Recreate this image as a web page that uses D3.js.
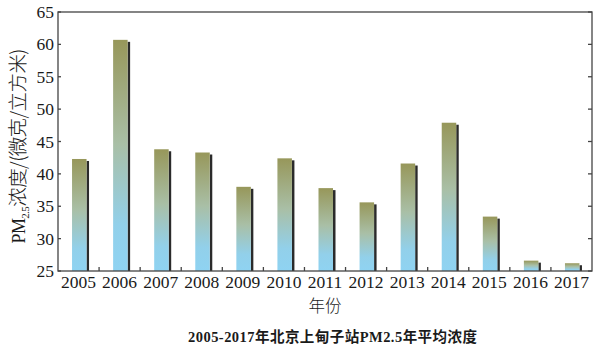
<!DOCTYPE html>
<html>
<head>
<meta charset="utf-8">
<script src="https://cdn.jsdelivr.net/npm/d3@7"></script>
<style>
  body { margin: 0; background: #fff; }
</style>
</head>
<body>
<div id="chart"></div>
<script>
// PM2.5 yearly average, Shangdianzi station
const years = ['2005', '2006', '2007', '2008', '2009', '2010', '2011',
               '2012', '2013', '2014', '2015', '2016', '2017'];
const values = [42.3, 60.7, 43.8, 43.3, 38.0, 42.4, 37.8,
                35.6, 41.6, 47.9, 33.4, 26.6, 26.2];
const yTicks = [25, 30, 35, 40, 45, 50, 55, 60, 65];

const width = 602, height = 354;
const margin = { top: 12, right: 10, bottom: 83, left: 58 };
const cjk = '"Noto Sans CJK SC", sans-serif';

const svg = d3.select('#chart').append('svg')
    .attr('width', width)
    .attr('height', height)
    .attr('font-family', '"Liberation Serif", "Noto Sans CJK SC", serif')
    .attr('fill', '#1a1a1a');

// scales
const x = d3.scaleBand()
    .domain(years)
    .range([margin.left, width - margin.right]);

const y = d3.scaleLinear()
    .domain([25, 65])
    .range([height - margin.bottom, margin.top]);

// bar gradient: olive on top fading into light blue
const defs = svg.append('defs');
const grad = defs.append('linearGradient')
    .attr('id', 'barGrad')
    .attr('x1', 0).attr('y1', 0).attr('x2', 0).attr('y2', 1);
grad.append('stop').attr('offset', '0%').attr('stop-color', '#97975a');
grad.append('stop').attr('offset', '45%').attr('stop-color', '#a9bfa6');
grad.append('stop').attr('offset', '80%').attr('stop-color', '#92d0ea');
grad.append('stop').attr('offset', '100%').attr('stop-color', '#8fd3f2');

const bars = svg.append('g');
const cx = d => x(d) + x.bandwidth() / 2;

// shadow strip on the right side of each bar
bars.selectAll('.shadow')
    .data(years)
    .join('rect')
    .attr('class', 'shadow')
    .attr('x', d => cx(d) + 8)
    .attr('y', (d, i) => y(values[i]) + 2)
    .attr('width', 2.5)
    .attr('height', (d, i) => y(25) - y(values[i]) - 2)
    .attr('fill', '#2b2b2b');

bars.selectAll('.bar')
    .data(years)
    .join('rect')
    .attr('class', 'bar')
    .attr('x', d => cx(d) - 6.5)
    .attr('y', (d, i) => y(values[i]))
    .attr('width', 14.5)
    .attr('height', (d, i) => y(25) - y(values[i]))
    .attr('fill', 'url(#barGrad)');

// frame
const frame = svg.append('g')
    .attr('stroke', '#444')
    .attr('stroke-width', 1.3)
    .attr('fill', 'none');
frame.append('rect')
    .attr('x', margin.left)
    .attr('y', margin.top)
    .attr('width', width - margin.left - margin.right)
    .attr('height', height - margin.top - margin.bottom);

// inner ticks on left and right
const left = margin.left, right = width - margin.right;
frame.selectAll('.lt')
    .data(yTicks)
    .join('line')
    .attr('x1', left).attr('x2', left + 3)
    .attr('y1', d => y(d)).attr('y2', d => y(d));
frame.selectAll('.rt')
    .data(yTicks)
    .join('line')
    .attr('x1', right).attr('x2', right - 4)
    .attr('y1', d => y(d)).attr('y2', d => y(d));

// bottom ticks at band boundaries
frame.selectAll('.bt')
    .data(years.slice(1))
    .join('line')
    .attr('x1', d => x(d)).attr('x2', d => x(d))
    .attr('y1', y(25)).attr('y2', y(25) - 4);

// tick labels
svg.append('g')
    .selectAll('text')
    .data(yTicks)
    .join('text')
    .attr('x', left - 4)
    .attr('y', d => y(d) + 6)
    .attr('text-anchor', 'end')
    .attr('font-size', '17.5px')
    .text(d => d);

svg.append('g')
    .selectAll('text')
    .data(years)
    .join('text')
    .attr('x', d => cx(d))
    .attr('y', y(25) + 17)
    .attr('text-anchor', 'middle')
    .attr('font-size', '17.5px')
    .text(d => d);

// axis titles
svg.append('text')
    .attr('x', (left + right) / 2)
    .attr('y', 312)
    .attr('text-anchor', 'middle')
    .attr('font-size', '16.5px')
    .attr('font-family', cjk)
    .attr('font-weight', 300)
    .text('年份');

const yl = svg.append('text')
    .attr('transform', 'translate(25, 146) rotate(-90)')
    .attr('text-anchor', 'middle')
    .attr('textLength', 195)
    .attr('lengthAdjust', 'spacing')
    .attr('font-size', '18px');
yl.append('tspan').text('PM');
yl.append('tspan').attr('font-size', '11px').attr('dy', 4).text('2.5');
yl.append('tspan').attr('dy', -4)
    .attr('font-size', '19.5px')
    .attr('font-family', cjk)
    .attr('font-weight', 300)
    .text('浓度/(微克/立方米)');

// caption
svg.append('text')
    .attr('x', 188)
    .attr('y', 342)
    .attr('textLength', 289)
    .attr('lengthAdjust', 'spacing')
    .attr('font-size', '14.5px')
    .attr('font-weight', 'bold')
    .text('2005-2017年北京上甸子站PM2.5年平均浓度');
</script>
</body>
</html>
